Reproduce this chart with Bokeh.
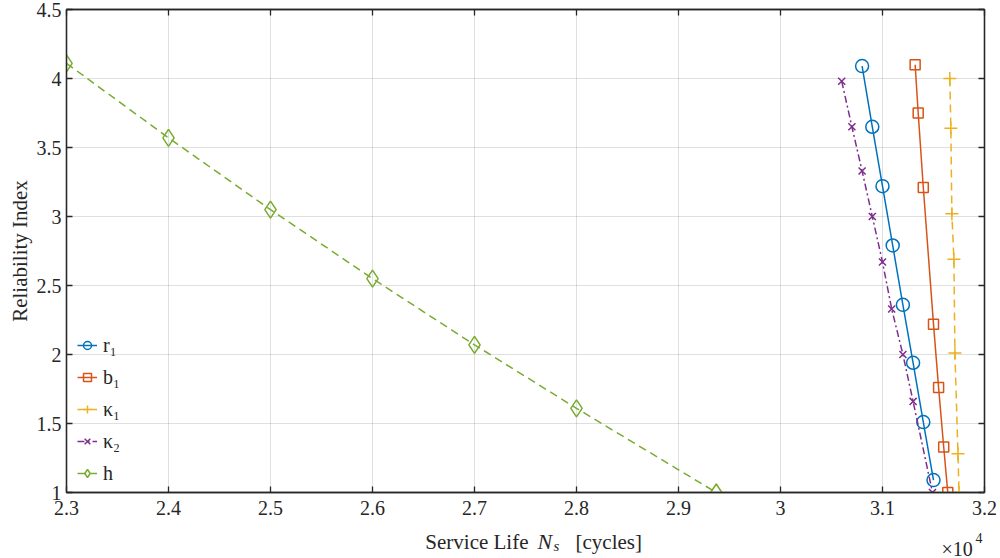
from bokeh.plotting import figure
from bokeh.layouts import column
from bokeh.models import FixedTicker, LinearAxis, Label, Range1d, CustomJSTickFormatter
from bokeh.embed import file_html
from bokeh.resources import INLINE

# ---- data (service life in cycles, reliability index) ----
r1_x = [30800, 30900, 31000, 31100, 31200, 31300, 31400, 31500]
r1_y = [4.09, 3.65, 3.22, 2.79, 2.36, 1.94, 1.51, 1.09]

b1_x = [31320, 31350, 31400, 31500, 31550, 31600, 31640]
b1_y = [4.10, 3.75, 3.21, 2.22, 1.76, 1.33, 1.00]

k1_x = [31660, 31670, 31680, 31700, 31710, 31740, 31750]
k1_y = [4.00, 3.64, 3.02, 2.69, 2.01, 1.28, 1.00]

k2_x = [30600, 30700, 30800, 30900, 31000, 31090, 31200, 31300, 31490]
k2_y = [3.98, 3.65, 3.33, 3.00, 2.67, 2.33, 2.00, 1.66, 1.00]

h_x = [23000, 24000, 25000, 26000, 27000, 28000, 29370]
h_y = [4.11, 3.57, 3.05, 2.55, 2.07, 1.61, 1.00]

x_ticks = [23000, 24000, 25000, 26000, 27000, 28000, 29000, 30000, 31000, 32000]
x_tick_labels = ["2.3", "2.4", "2.5", "2.6", "2.7", "2.8", "2.9", "3", "3.1", "3.2"]
y_ticks = [1, 1.5, 2, 2.5, 3, 3.5, 4, 4.5]
y_tick_labels = ["1", "1.5", "2", "2.5", "3", "3.5", "4", "4.5"]

FONT = "Liberation Serif"
DARK = "#262626"

MAIN_H = 526          # main plot height
XL_H = 558 - MAIN_H   # strip holding the x-axis title

p = figure(width=1000, height=MAIN_H, x_range=Range1d(23000, 32000), y_range=Range1d(1, 4.5),
           output_backend="svg", toolbar_location=None,
           min_border_left=66, min_border_right=16, min_border_top=9, min_border_bottom=MAIN_H - 492,
           background_fill_color="white", border_fill_color="white")

xt = FixedTicker(ticks=x_ticks, minor_ticks=[])
yt = FixedTicker(ticks=y_ticks, minor_ticks=[])

def style_axis(ax, ticker, overrides, show_labels=True):
    ax.ticker = ticker
    ax.axis_line_color = DARK
    ax.axis_line_width = 1.3
    ax.major_tick_line_color = DARK
    ax.major_tick_line_width = 1.3
    ax.major_tick_in = 6
    ax.major_tick_out = 0
    ax.minor_tick_line_color = None
    if show_labels:
        ax.major_label_overrides = overrides
        ax.major_label_text_font = FONT
        ax.major_label_text_font_size = "20px"
        ax.major_label_text_color = DARK
    else:
        ax.formatter = CustomJSTickFormatter(code="return ''")
        ax.major_label_standoff = 0

style_axis(p.xaxis[0], xt, {t: l for t, l in zip(x_ticks, x_tick_labels)})
p.xaxis[0].major_label_standoff = 8
style_axis(p.yaxis[0], yt, {t: l for t, l in zip(y_ticks, y_tick_labels)})
p.yaxis[0].major_label_standoff = 5
p.yaxis[0].axis_label = "Reliability Index"
p.yaxis[0].axis_label_text_font = FONT
p.yaxis[0].axis_label_text_font_size = "21px"
p.yaxis[0].axis_label_text_font_style = "normal"
p.yaxis[0].axis_label_text_color = DARK
p.yaxis[0].axis_label_standoff = 2

top = LinearAxis()
style_axis(top, xt, {}, show_labels=False)
p.add_layout(top, "above")
right = LinearAxis()
style_axis(right, yt, {}, show_labels=False)
p.add_layout(right, "right")

p.xgrid.ticker = xt
p.ygrid.ticker = yt
for g in (p.xgrid, p.ygrid):
    g.grid_line_color = DARK
    g.grid_line_alpha = 0.15
    g.grid_line_width = 1
p.outline_line_color = DARK
p.outline_line_width = 1.3

BLUE, ORANGE, YELLOW, PURPLE, GREEN = "#0072BD", "#D95319", "#EDB120", "#7E2F8E", "#77AC30"
LW = 1.5

p.line(r1_x, r1_y, line_color=BLUE, line_width=LW, legend_label="r₁")
p.scatter(r1_x, r1_y, marker="circle", size=13, fill_color=None, line_color=BLUE, line_width=LW, legend_label="r₁")

p.line(b1_x, b1_y, line_color=ORANGE, line_width=LW, legend_label="b₁")
p.scatter(b1_x, b1_y, marker="square", size=10, fill_color=None, line_color=ORANGE, line_width=LW, legend_label="b₁")

p.line(k1_x, k1_y, line_color=YELLOW, line_width=LW, line_dash="8 5", legend_label="κ₁")
p.scatter(k1_x, k1_y, marker="cross", size=13, fill_color=None, line_color=YELLOW, line_width=LW, legend_label="κ₁")

p.line(k2_x, k2_y, line_color=PURPLE, line_width=LW, line_dash="7 3 2 3", legend_label="κ₂")
p.scatter(k2_x, k2_y, marker="x", size=10, fill_color=None, line_color=PURPLE, line_width=LW, legend_label="κ₂")

p.line(h_x, h_y, line_color=GREEN, line_width=LW, line_dash="8 5", legend_label="h")
p.scatter(h_x, h_y, marker="diamond", size=17, fill_color=None, line_color=GREEN, line_width=LW, legend_label="h")

lg = p.legend[0]
lg.location = (11, 3)
lg.padding = 0
lg.margin = 0
lg.spacing = 0
lg.border_line_alpha = 0
lg.background_fill_alpha = 0
lg.label_text_font = FONT
lg.label_text_font_size = "20px"
lg.label_text_color = DARK
lg.glyph_width = 20
lg.glyph_height = 32
lg.label_height = 32
lg.label_standoff = 6

# strip below the plot for the x-axis title and the ×10^4 exponent
px = figure(width=1000, height=XL_H, x_range=Range1d(0, 1000), y_range=Range1d(0, XL_H),
            output_backend="svg", toolbar_location=None,
            x_axis_location=None, y_axis_location=None, min_border=0,
            background_fill_color="white", border_fill_color="white")
px.grid.visible = False
px.outline_line_color = None


def lab(x, y, text, size="21px", style="normal", align="left"):
    # canvas units: pixels from the top-left corner of the strip
    px.add_layout(Label(x=x, y=y, x_units="canvas", y_units="canvas", text=text,
                        text_font=FONT, text_font_size=size, text_font_style=style,
                        text_color=DARK, text_baseline="alphabetic", text_align=align))


base = 541 - MAIN_H
lab(528, base, "Service Life", align="right")
lab(537, base, "N", size="22px", style="italic")
lab(553, base + 4, "s", size="15px", style="italic")
lab(575, base, "[cycles]")
lab(941, 548 - MAIN_H, "×10", size="20px")
lab(975, 537 - MAIN_H, "4", size="14px")

layout = column(p, px, spacing=0)

open("out.html", "w").write(file_html(layout, INLINE))
